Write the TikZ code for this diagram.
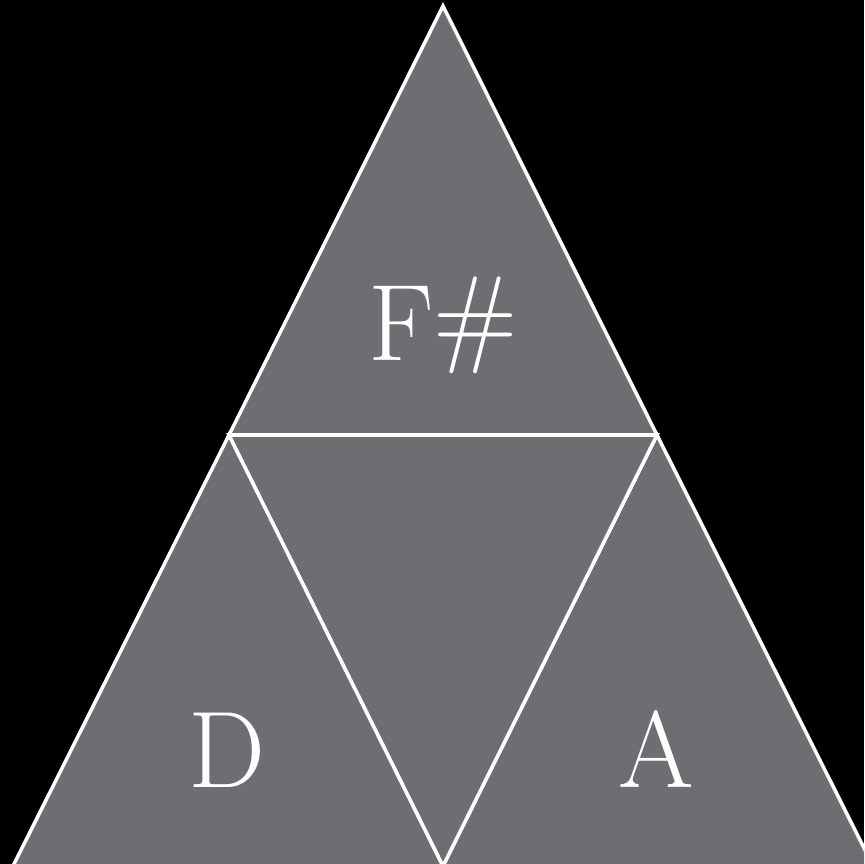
\documentclass[tikz,border=0pt]{standalone}
\usepackage{fontspec}
\usepackage{tikz}
\definecolor{triFill}{RGB}{110,109,114}
\tikzset{
  tri/.style   = {fill=triFill, draw=white, line width=2pt, line join=miter},
  note/.style  = {text=white, font=\fontsize{62}{68}\selectfont, inner sep=0pt, anchor=base}
}

\begin{document}
\begin{tikzpicture}[x=0.02cm, y=-0.02cm]
% ---- background ----
\fill[black] (0,0) rectangle (864,864);
\useasboundingbox (0,0) rectangle (864,864);
\clip (0,0) rectangle (864,864);

% ---- corners and midpoints ----
\coordinate (top)   at (443,6);
\coordinate (left)  at (13,866);
\coordinate (right) at (873,866);
\coordinate (ml)    at (229,435);
\coordinate (mr)    at (657,435);
\coordinate (mb)    at (443,866);

% ---- the four triangles ----
\draw[tri] (top) -- (ml) -- (mr) -- cycle;
\draw[tri] (ml) -- (left) -- (mb) -- cycle;
\draw[tri] (mr) -- (mb) -- (right) -- cycle;
\draw[tri] (ml) -- (mr) -- (mb) -- cycle;

% ---- notes ----
\node[note] (fis) at (443,360) {F\raisebox{4pt}{\#}};
\node[note] (d)   at (227,787) {D};
\node[note] (a)   at (656,787) {A};
\end{tikzpicture}
\end{document}
